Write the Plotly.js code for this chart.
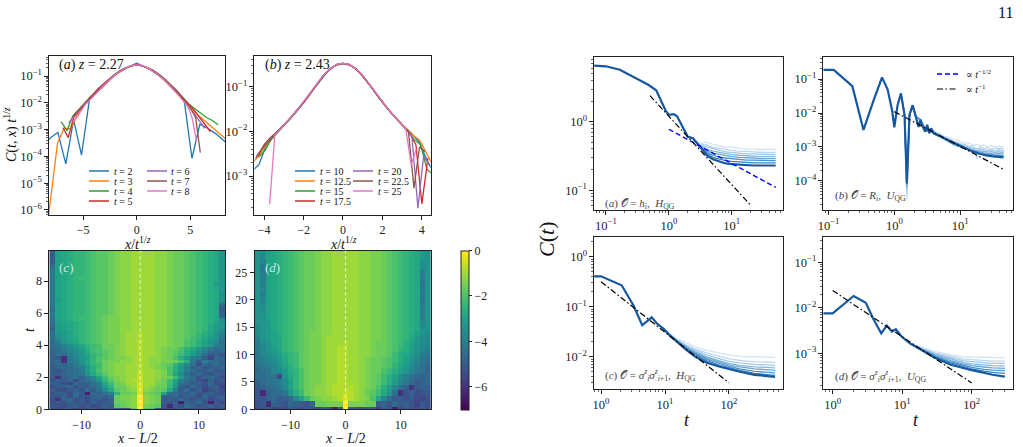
<!DOCTYPE html>
<html><head><meta charset="utf-8">
<script src="https://cdn.plot.ly/plotly-3.0.1.min.js"></script>
<style>html,body{margin:0;padding:0;background:#fff}#chart{width:1023px;height:447px}</style>
</head><body><div id="chart"></div>
<script>
// ---------------- DATA (log10 values) ----------------
// Panel (a): C(t,x) t^{1/z}, z = 2.27
const aTimes = [2, 3, 4, 5, 6, 7, 8];
const a_x2 = [-8.85,-8.11,-7.37,-6.63,-5.9,-5.16,-4.42,-3.69,-2.95,-2.21,-1.47,-0.74,0,0.74,1.47,2.21,2.95,3.69,4.42,5.16,5.9,6.63,7.37,8.11,8.85];
const a_y2 = [-3.6,-3.32,-3.1,-4.28,-2.64,-3.95,-1.88,-1.5,-1.24,-0.99,-0.78,-0.66,-0.52,-0.66,-0.77,-0.99,-1.26,-1.52,-1.86,-4.07,-2.8,-2.95,-3.15,-3.42,-3.65];
const a_x3 = [-8.64,-8.02,-7.4,-6.79,-6.17,-5.55,-4.93,-4.32,-3.7,-3.08,-2.47,-1.85,-1.23,-0.62,0,0.62,1.23,1.85,2.47,3.08,3.7,4.32,4.93,5.55,6.17,6.79,7.4,8.02,8.64];
const a_y3 = [-7.5,-5.4,-3.5,-2.95,-2.97,-2.45,-2.1,-1.8,-1.53,-1.3,-1.08,-0.89,-0.74,-0.63,-0.58,-0.63,-0.74,-0.89,-1.08,-1.3,-1.55,-1.82,-2.1,-2.4,-2.62,-2.85,-3.05,-3.25,-3.45];
const a_x4 = [-7.07,-6.52,-5.98,-5.43,-4.89,-4.35,-3.8,-3.26,-2.72,-2.17,-1.63,-1.09,-0.54,0,0.54,1.09,1.63,2.17,2.72,3.26,3.8,4.35,4.89,5.43,5.98,6.52,7.07,7.61];
const a_y4 = [-2.7,-3.04,-2.5,-2.25,-2.0,-1.78,-1.57,-1.37,-1.17,-0.98,-0.82,-0.7,-0.62,-0.58,-0.62,-0.7,-0.81,-0.96,-1.15,-1.37,-1.6,-1.85,-2.05,-2.22,-2.4,-2.55,-2.66,-2.82];
const a_x5 = [-6.89,-6.4,-5.9,-5.41,-4.92,-4.43,-3.94,-3.44,-2.95,-2.46,-1.97,-1.48,-0.98,-0.49,0,0.49,0.98,1.48,1.97,2.46,2.95,3.44,3.94,4.43,4.92,5.41,5.9,6.4,6.89];
const a_y5 = [-2.93,-3.3,-2.55,-2.3,-2.06,-1.85,-1.63,-1.43,-1.25,-1.07,-0.92,-0.79,-0.69,-0.61,-0.58,-0.61,-0.69,-0.79,-0.92,-1.07,-1.26,-1.45,-1.65,-1.88,-2.07,-2.3,-2.55,-2.85,-3.08];
const a_x6 = [-6.36,-5.9,-5.45,-5.0,-4.54,-4.09,-3.63,-3.18,-2.72,-2.27,-1.82,-1.36,-0.91,-0.45,0,0.45,0.91,1.36,1.82,2.27,2.72,3.18,3.63,4.09,4.54,5.0,5.45,5.9,6.36];
const a_y6 = [-2.75,-2.5,-2.3,-2.12,-1.94,-1.75,-1.56,-1.39,-1.2,-1.04,-0.9,-0.78,-0.68,-0.61,-0.58,-0.61,-0.68,-0.78,-0.9,-1.04,-1.2,-1.39,-1.57,-1.77,-1.97,-2.2,-2.45,-2.7,-2.95];
const a_x7 = [-5.94,-5.51,-5.09,-4.66,-4.24,-3.82,-3.39,-2.97,-2.54,-2.12,-1.7,-1.27,-0.85,-0.42,0,0.42,0.85,1.27,1.7,2.12,2.54,2.97,3.39,3.82,4.24,4.66,5.09,5.51,5.94];
const a_y7 = [-2.5,-2.3,-2.15,-1.98,-1.8,-1.63,-1.46,-1.3,-1.13,-0.99,-0.87,-0.76,-0.67,-0.61,-0.58,-0.61,-0.67,-0.76,-0.87,-0.99,-1.14,-1.3,-1.47,-1.65,-1.83,-2.02,-2.25,-2.55,-3.86];
const a_x8 = [-6.0,-5.6,-5.2,-4.8,-4.4,-4.0,-3.6,-3.2,-2.8,-2.4,-2.0,-1.6,-1.2,-0.8,-0.4,0,0.4,0.8,1.2,1.6,2.0,2.4,2.8,3.2,3.6,4.0,4.4,4.8,5.2,5.6];
const a_y8 = [-2.72,-2.55,-2.3,-2.05,-1.9,-1.72,-1.55,-1.39,-1.23,-1.08,-0.95,-0.83,-0.73,-0.65,-0.6,-0.58,-0.6,-0.65,-0.73,-0.83,-0.95,-1.08,-1.23,-1.4,-1.57,-1.75,-1.94,-2.15,-2.6,-3.45];

// Panel (b): z = 2.43
const bTimes = [10, 12.5, 15, 17.5, 20, 22.5, 25];
const b_x10 = [-4.66,-4.27,-3.88,-3.49,-3.1,-2.72,-2.33,-1.94,-1.55,-1.16,-0.78,-0.39,0,0.39,0.78,1.16,1.55,1.94,2.33,2.72,3.1,3.49,3.88,4.27,4.66];
const b_y10 = [-2.9,-2.75,-2.3,-2.1,-1.92,-1.74,-1.54,-1.33,-1.09,-0.86,-0.66,-0.53,-0.48,-0.53,-0.66,-0.85,-1.08,-1.31,-1.52,-1.72,-1.9,-2.05,-2.25,-2.66,-2.95];
const b_x12 = [-4.6,-4.25,-3.89,-3.54,-3.19,-2.83,-2.48,-2.12,-1.77,-1.42,-1.06,-0.71,-0.35,0,0.35,0.71,1.06,1.42,1.77,2.12,2.48,2.83,3.19,3.54,3.89,4.25,4.6];
const b_y12 = [-2.7,-2.55,-2.3,-2.12,-1.95,-1.79,-1.62,-1.43,-1.23,-1.0,-0.79,-0.62,-0.52,-0.48,-0.52,-0.62,-0.79,-1.0,-1.22,-1.42,-1.6,-1.77,-1.93,-2.08,-2.2,-2.5,-2.8];
const b_x15 = [-4.26,-3.94,-3.61,-3.28,-2.95,-2.62,-2.3,-1.97,-1.64,-1.31,-0.98,-0.66,-0.33,0,0.33,0.66,0.98,1.31,1.64,1.97,2.3,2.62,2.95,3.28,3.61,3.94,4.26,4.59];
const b_y15 = [-2.57,-2.42,-2.15,-2.0,-1.85,-1.69,-1.53,-1.34,-1.15,-0.94,-0.75,-0.6,-0.51,-0.48,-0.51,-0.6,-0.75,-0.94,-1.14,-1.33,-1.52,-1.68,-1.84,-1.99,-2.18,-2.3,-2.85,-2.98];
const b_x17 = [-4.31,-4.0,-3.7,-3.39,-3.08,-2.77,-2.46,-2.16,-1.85,-1.54,-1.23,-0.92,-0.62,-0.31,0,0.31,0.62,0.92,1.23,1.54,1.85,2.16,2.46,2.77,3.08,3.39,3.7,4.0,4.31];
const b_y17 = [-2.55,-2.3,-2.15,-2.03,-1.9,-1.75,-1.6,-1.44,-1.26,-1.07,-0.89,-0.72,-0.59,-0.51,-0.48,-0.51,-0.59,-0.72,-0.89,-1.07,-1.26,-1.44,-1.6,-1.75,-1.9,-2.05,-2.3,-3.62,-2.6];
const b_x20 = [-4.38,-4.09,-3.8,-3.5,-3.21,-2.92,-2.63,-2.34,-2.04,-1.75,-1.46,-1.17,-0.88,-0.58,-0.29,0,0.29,0.58,0.88,1.17,1.46,1.75,2.04,2.34,2.63,2.92,3.21,3.5,3.8,4.09,4.38];
const b_y20 = [-2.55,-2.38,-2.22,-2.08,-1.95,-1.82,-1.68,-1.53,-1.38,-1.21,-1.03,-0.86,-0.7,-0.58,-0.5,-0.48,-0.5,-0.58,-0.7,-0.86,-1.03,-1.21,-1.38,-1.53,-1.68,-1.82,-1.95,-2.12,-3.72,-2.55,-2.75];
const b_x22 = [-4.43,-4.16,-3.88,-3.6,-3.32,-3.05,-2.77,-2.49,-2.22,-1.94,-1.66,-1.39,-1.11,-0.83,-0.55,-0.28,0,0.28,0.55,0.83,1.11,1.39,1.66,1.94,2.22,2.49,2.77,3.05,3.32,3.6,3.88,4.16];
const b_y22 = [-2.6,-2.42,-2.27,-2.13,-2.0,-1.88,-1.75,-1.61,-1.47,-1.32,-1.15,-0.98,-0.83,-0.68,-0.57,-0.5,-0.48,-0.5,-0.57,-0.68,-0.82,-0.98,-1.15,-1.32,-1.47,-1.61,-1.75,-1.88,-2.0,-3.27,-2.35,-2.45];
const b_x25 = [-3.72,-3.46,-3.19,-2.93,-2.66,-2.39,-2.13,-1.86,-1.6,-1.33,-1.06,-0.8,-0.53,-0.27,0,0.27,0.53,0.8,1.06,1.33,1.6,1.86,2.13,2.39,2.66,2.93,3.19,3.46,3.72];
const b_y25 = [-3.63,-2.08,-1.95,-1.83,-1.69,-1.56,-1.41,-1.26,-1.11,-0.94,-0.78,-0.66,-0.56,-0.5,-0.48,-0.5,-0.56,-0.66,-0.78,-0.94,-1.11,-1.26,-1.41,-1.56,-1.69,-1.83,-1.95,-2.75,-2.4];

// Heatmaps: each char = level k (base 36), log10 C = -0.2*k ; rows bottom (t small) to top
const cCols = [-15,-14,-13,-12,-11,-10,-9,-8,-7,-6,-5,-4,-3,-2,-1,0,1,2,3,4,5,6,7,8,9,10,11,12,13,14];
const cTimes = [0,0.2,0.4,0.6,0.8,1,1.2,1.4,1.6,1.8,2,2.2,2.4,2.6,2.8,3,3.2,3.4,3.6,3.8,4,4.2,4.4,4.6,4.8,5,5.2,5.4,5.6,5.8,6,6.2,6.4,6.6,6.8,7,7.2,7.4,7.6,7.8,8,8.2,8.4,8.6,8.8,9,9.2,9.4,9.6,9.8];
const cRows = [
 "qrqpsrqprqppsp909apsrqpqrpqsrq",
 "pqrpoqprqop98760789qvpqnoqpoqp",
 "rpqoqproqpo88760678pqowopnqwpr",
 "quonqprpoqo87760678poqnpqoprqp",
 "pqornpqonpn87760678opnqoprnqpo",
 "qoprnpwnomkc8872789fmnopnqpoqr",
 "pqrpoqnpmie987626789ekpnqosqpr",
 "rponqopnlgc886525688choqnprpos",
 "opqsnpomkeb875535578bgmnpoqnrq",
 "qopnrnmkhc9765435578bfkmoqsoqp",
 "puonmoljfb87655355678bglnqonpr",
 "pponmlheb97665535567aeimonpqop",
 "oqonmkgda87665545567adgknponqp",
 "ponnlkhdb87665545678adhkonqpon",
 "pnomkifcb876655456789cfjmrnomp",
 "onulkheca8776654566778adlpkmno",
 "opuljhfca987765456678adhklpsno",
 "omnkjhecb9876554556789bdgjmpoq",
 "onljigdba9876554556789adfiknon",
 "nmkjhfdba8876554556788acegjlnm",
 "nlkigecba88765545566788abdfhkm",
 "nkhfecba987765545566788abdfhjm",
 "mjgfecba9877655455667889bceghl",
 "nhgedcba9877655455667889acdfhk",
 "mhgfdcba9877655455667889abdfhj",
 "ogfedcba9877665555667889abcegi",
 "ngfedcba9877665555667889abcegh",
 "mgfedcba9877665555667889abcdfh",
 "mfedcbba9877665555667889abcdei",
 "lfedcbba9877665555667889abcdeo",
 "lfedccba9987665555667889abcdeo",
 "mfedccba9987665555667889abcdep",
 "lfedccba9987665555667889abcdeo",
 "lfedccba9987665555667889abcdel",
 "lgedccba9987665555667889abcdeh",
 "lfedccba9987665555667889abcdeh",
 "lfedccba9987665555667889abcdei",
 "kfedccba9987665555667889abcdeh",
 "lfedccba9987665555667889abcdeh",
 "lfedccba9987665555667889abcdgh",
 "lfedccba9987665555667889abcdeh",
 "lfedcbba9987665555667889abcdeh",
 "kfedccba9987665555667889abcdeh",
 "lfedccba9987665555667889abcdeh",
 "lfedccba9987665555667889abcdeh",
 "nfedccba9987665555667889abcdeh",
 "pfedccba9987665555667889abcdeh",
 "ofedccba9987665555667889abcdeh",
 "pfedccba9987665555667889abcdeh",
 "pfedccba9987665555667889abcdeh"
];
const dCols = [-16,-15,-14,-13,-12,-11,-10,-9,-8,-7,-6,-5,-4,-3,-2,-1,0,1,2,3,4,5,6,7,8,9,10,11,12,13,14,15];
const dTimes = [0,1,2,3,4,5,6,7,8,9,10,11,12,13,14,15,16,17,18,19,20,21,22,23,24,25,26,27,28,29];
const dRows = [
 "rqpsrqpqrpqspqwq0pqrpqspqwrpqrpq",
 "qpvopqnopqo88777077788poqnpoqspr",
 "pqonponjfb87665424567aejnpoqprsq",
 "qvonmlhdb8766544345689behmuqorqp",
 "ponmljfca8766544445678adgjmoupop",
 "onmlkifca87765544556789bdgjlnpon",
 "mnlmrheca87765544556789bdfikmnon",
 "nmljigdca87765544556788abdfhjlmo",
 "mlkjhfdb9877655445567889acegikmn",
 "lkjigecb9877655445567889abdfhjlm",
 "ljihfdcb98776554455667889bdegikl",
 "kjhgecba98776554455667889acdfhjk",
 "kihfecba98776555455667889abdfhij",
 "jhgfecba98776555555667789abcegij",
 "ihgfdcba98776655555667789abcdfhi",
 "ihgedcba98876655555667789abcdeih",
 "hhgedcba98876655555667789abcdejh",
 "hhfedcba98876655555667789abcdekh",
 "hifedcba98876655555667789abcdekh",
 "hifedcba98876655555667789abcdekh",
 "hjfedcba98876655555667789abcdelh",
 "hkfedcba98876655555667789abcdekh",
 "hjfedcba98876655555667789abcdelh",
 "hkfedcba98876655555667789abcdelh",
 "hkfedcba98876655555667789abcdekh",
 "hlfedcba98876655555667789abcdekh",
 "hlfedcba98876655555667789abcdeih",
 "hjfedcba98876655555667789abcdeih",
 "hifedcba98876655555667789abcdegh",
 "hhfedcba98876655555667789abcdegh"
];

// Right panels (log10 C vs t)
const ra_t = [0.065,0.1,0.166,0.27,0.47,0.63,0.76,0.89,1.0,1.2,1.35,1.66,2.0,2.4,3.1,4.0,5.0,6.5,8,10,13,17,22,30,40,50];
const ra_dark = [0.82,0.81,0.76,0.66,0.54,0.46,0.30,0.16,0.10,0.11,0.08,-0.07,-0.22,-0.24,-0.37,-0.49,-0.55,-0.59,-0.61,-0.62,-0.63,-0.635,-0.64,-0.64,-0.64,-0.64];
const ra_tl = [2.0,2.4,3.1,4.0,5.0,6.5,8,10,13,17,22,30,40,50];
const ra_L1 = [-0.22,-0.24,-0.32,-0.30,-0.33,-0.35,-0.37,-0.37,-0.39,-0.40,-0.40,-0.41,-0.40,-0.41];
const ra_L2 = [-0.22,-0.24,-0.33,-0.34,-0.37,-0.39,-0.41,-0.42,-0.43,-0.44,-0.44,-0.45,-0.45,-0.45];
const ra_L3 = [-0.22,-0.24,-0.34,-0.37,-0.40,-0.42,-0.44,-0.45,-0.46,-0.47,-0.47,-0.48,-0.48,-0.48];
const ra_L4 = [-0.22,-0.24,-0.35,-0.40,-0.43,-0.45,-0.47,-0.48,-0.49,-0.50,-0.50,-0.51,-0.51,-0.51];
const ra_L5 = [-0.22,-0.24,-0.35,-0.42,-0.46,-0.48,-0.50,-0.51,-0.52,-0.53,-0.53,-0.54,-0.54,-0.54];
const ra_L6 = [-0.22,-0.24,-0.36,-0.44,-0.49,-0.52,-0.53,-0.54,-0.55,-0.56,-0.56,-0.57,-0.57,-0.57];
const ra_L7 = [-0.22,-0.24,-0.36,-0.46,-0.52,-0.55,-0.57,-0.58,-0.59,-0.59,-0.60,-0.60,-0.60,-0.60];
const ra_half_t = [1, 50], ra_half = [-0.11, -0.96];
const ra_inv_t = [0.5, 20], ra_inv = [0.38, -1.22];

const rb_t = [0.083,0.12,0.23,0.34,0.49,0.65,0.79,0.93,1.0,1.12,1.26,1.43,1.55,1.7,1.9,2.14,2.34,2.5,2.7,2.95,3.16,3.4,3.63,4.0,5.0,6.3,8,10,12.6,15.8,20,25,32,40,46];
const rb_dark = [-0.73,-0.73,-1.21,-2.5,-1.6,-0.95,-1.3,-1.95,-2.42,-1.77,-1.42,-2.06,-4.08,-2.06,-1.77,-2.11,-2.41,-2.2,-2.4,-2.55,-2.35,-2.6,-2.45,-2.6,-2.68,-2.78,-2.88,-2.96,-3.06,-3.14,-3.2,-3.25,-3.28,-3.3,-3.31];
const rb_tl = [1.26,1.43,1.55,1.7,1.9,2.14,2.5,3.0,3.5,4,5,6,7,8,9,10,12,14,16,18,20,23,26,30,34,38,42,46];
const rb_L1 = [-1.42,-2.06,-4.6,-2.06,-1.77,-2.11,-2.2,-2.45,-2.45,-2.55,-2.6,-2.7,-2.72,-2.8,-2.78,-2.85,-2.88,-2.9,-2.95,-2.92,-2.97,-2.95,-3.0,-2.96,-3.02,-2.97,-3.0,-2.98];
const rb_L2 = [-1.42,-2.06,-4.4,-2.06,-1.77,-2.11,-2.2,-2.48,-2.46,-2.57,-2.64,-2.73,-2.78,-2.84,-2.86,-2.9,-2.93,-2.98,-2.97,-3.35,-3.0,-3.05,-3.02,-3.07,-3.03,-3.06,-3.04,-3.06];
const rb_L3 = [-1.42,-2.06,-4.3,-2.06,-1.77,-2.11,-2.2,-2.5,-2.48,-2.58,-2.66,-2.76,-2.82,-2.87,-2.9,-2.94,-2.98,-3.02,-3.04,-3.05,-3.07,-3.08,-3.1,-3.09,-3.12,-3.08,-3.11,-3.1];
const rb_L4 = [-1.42,-2.06,-4.2,-2.06,-1.77,-2.11,-2.2,-2.52,-2.5,-2.6,-2.68,-2.78,-2.84,-2.9,-2.93,-2.97,-3.02,-3.06,-3.08,-3.1,-3.12,-3.13,-3.15,-3.14,-3.17,-3.14,-3.16,-3.15];
const rb_L5 = [-1.42,-2.06,-4.15,-2.06,-1.77,-2.11,-2.2,-2.53,-2.51,-2.61,-2.69,-2.79,-2.86,-2.92,-2.95,-2.99,-3.04,-3.09,-3.11,-3.14,-3.16,-3.18,-3.2,-3.19,-3.22,-3.19,-3.21,-3.2];
const rb_L6 = [-1.42,-2.06,-4.1,-2.06,-1.77,-2.11,-2.2,-2.53,-2.52,-2.62,-2.7,-2.8,-2.87,-2.93,-2.96,-3.0,-3.06,-3.11,-3.14,-3.17,-3.2,-3.22,-3.24,-3.23,-3.26,-3.24,-3.26,-3.25];
const rb_inv_t = [1, 45.7], rb_inv = [-1.96, -3.66];

const rc_t = [0.78,1,2.1,3.2,4.4,6.2,7.4,9.3,12,16,22,30,45,72,100,148,250,525];
const rc_dark = [-0.39,-0.39,-0.57,-0.97,-1.37,-1.21,-1.33,-1.43,-1.58,-1.72,-1.87,-2.0,-2.12,-2.2,-2.25,-2.3,-2.36,-2.40];
const rc_tl = [9.3,12,16,22,30,45,72,100,148,250,525];
const rc_L1 = [-1.43,-1.55,-1.65,-1.73,-1.8,-1.87,-1.93,-1.96,-1.99,-2.0,-2.01];
const rc_L2 = [-1.43,-1.56,-1.67,-1.77,-1.84,-1.92,-1.99,-2.04,-2.07,-2.1,-2.11];
const rc_L3 = [-1.43,-1.56,-1.68,-1.79,-1.87,-1.96,-2.04,-2.09,-2.12,-2.15,-2.17];
const rc_L4 = [-1.43,-1.57,-1.69,-1.81,-1.9,-2.0,-2.08,-2.13,-2.17,-2.2,-2.22];
const rc_L5 = [-1.43,-1.57,-1.7,-1.82,-1.92,-2.02,-2.11,-2.16,-2.2,-2.24,-2.27];
const rc_L6 = [-1.43,-1.57,-1.71,-1.84,-1.94,-2.05,-2.14,-2.19,-2.24,-2.29,-2.32];
const rc_L7 = [-1.43,-1.58,-1.71,-1.85,-1.96,-2.08,-2.17,-2.22,-2.27,-2.33,-2.37];
const rc_inv_t = [1, 100], rc_inv = [-0.5, -2.52];

const rd_t = [0.73,1,2,3,3.8,5,6,7.1,8.1,9.8,12.9,20,30,50,100,200,300];
const rd_dark = [-2.12,-2.12,-1.74,-1.89,-2.23,-2.56,-2.39,-2.52,-2.47,-2.63,-2.78,-2.95,-3.1,-3.25,-3.37,-3.47,-3.51];
const rd_tl = [12.9,20,30,50,75,100,150,200,300];
const rd_L1 = [-2.78,-2.88,-2.96,-3.03,-3.07,-3.08,-3.09,-3.1,-3.1];
const rd_L2 = [-2.78,-2.9,-2.99,-3.07,-3.12,-3.14,-3.16,-3.17,-3.17];
const rd_L3 = [-2.78,-2.91,-3.01,-3.1,-3.16,-3.18,-3.2,-3.22,-3.22];
const rd_L4 = [-2.78,-2.92,-3.03,-3.13,-3.2,-3.23,-3.26,-3.27,-3.28];
const rd_L5 = [-2.78,-2.93,-3.05,-3.16,-3.23,-3.27,-3.3,-3.32,-3.33];
const rd_L6 = [-2.78,-2.94,-3.07,-3.19,-3.26,-3.31,-3.35,-3.37,-3.38];
const rd_L7 = [-2.78,-2.94,-3.08,-3.21,-3.29,-3.34,-3.39,-3.42,-3.44];
const rd_inv_t = [1, 100], rd_inv = [-1.62, -3.65];

// ---------------- STYLE / BUILD ----------------
const W = 1023, H = 447;
const FONT = '"Liberation Serif", "DejaVu Serif", serif';
const TAB = ['#1f77b4','#ff7f0e','#2ca02c','#d62728','#9467bd','#8c564b','#e377c2'];
const LIGHT = ['#d3e4f3','#bdd7ee','#a3c8e6','#87b8de','#6ba6d4','#4f93c9','#3781bf'];
const DARK = '#16589f';
const P = a => a.map(v => Math.pow(10, v));
const dx = (a, b) => [a / W, b / W];
const dy = (top, bot) => [1 - bot / H, 1 - top / H];
const decode = s => s.split('').map(ch => -0.2 * parseInt(ch, 36));

const traces = [];
const aX = [a_x2,a_x3,a_x4,a_x5,a_x6,a_x7,a_x8], aY = [a_y2,a_y3,a_y4,a_y5,a_y6,a_y7,a_y8];
aX.forEach((xs, i) => traces.push({type:'scatter', mode:'lines', x: xs, y: P(aY[i]), xaxis:'x', yaxis:'y', line:{color:TAB[i], width:1.3}, hoverinfo:'skip'}));
const bX = [b_x10,b_x12,b_x15,b_x17,b_x20,b_x22,b_x25], bY = [b_y10,b_y12,b_y15,b_y17,b_y20,b_y22,b_y25];
bX.forEach((xs, i) => traces.push({type:'scatter', mode:'lines', x: xs, y: P(bY[i]), xaxis:'x2', yaxis:'y2', line:{color:TAB[i], width:1.3}, hoverinfo:'skip'}));

traces.push({type:'heatmap', x:cCols, y:cTimes, z:cRows.map(decode), colorscale:'Viridis', zmin:-7, zmax:0, showscale:false, xaxis:'x3', yaxis:'y3', hoverinfo:'skip'});
traces.push({type:'heatmap', x:dCols, y:dTimes, z:dRows.map(decode), colorscale:'Viridis', zmin:-7, zmax:0, xaxis:'x4', yaxis:'y4', hoverinfo:'skip',
  colorbar:{x:460.7/W, xanchor:'left', y:1-330/H, yanchor:'middle', thickness:8, thicknessmode:'pixels', len:(409.3-250.7)/H, lenmode:'fraction',
    outlinewidth:1, outlinecolor:'#222', tickvals:[0,-2,-4,-6], ticks:'outside', ticklen:3, tickcolor:'#222', xpad:0, ypad:0,
    tickfont:{family:FONT, size:12, color:'#222'}}});

function rightPanel(xa, ya, tl, Ls, t, dark) {
  Ls.forEach((L, i) => traces.push({type:'scatter', mode:'lines', x:tl, y:P(L), xaxis:xa, yaxis:ya, line:{color:LIGHT[i], width:1.3}, hoverinfo:'skip'}));
  traces.push({type:'scatter', mode:'lines', x:t, y:P(dark), xaxis:xa, yaxis:ya, line:{color:DARK, width:2.2}, hoverinfo:'skip'});
}
rightPanel('x5','y5', ra_tl, [ra_L1,ra_L2,ra_L3,ra_L4,ra_L5,ra_L6,ra_L7], ra_t, ra_dark);
rightPanel('x6','y6', rb_tl, [rb_L1,rb_L2,rb_L3,rb_L4,rb_L5,rb_L6], rb_t, rb_dark);
rightPanel('x7','y7', rc_tl, [rc_L1,rc_L2,rc_L3,rc_L4,rc_L5,rc_L6,rc_L7], rc_t, rc_dark);
rightPanel('x8','y8', rd_tl, [rd_L1,rd_L2,rd_L3,rd_L4,rd_L5,rd_L6,rd_L7], rd_t, rd_dark);
const DASHDOT = '6px,2.5px,1.5px,2.5px';
traces.push({type:'scatter', mode:'lines', x:ra_half_t, y:P(ra_half), xaxis:'x5', yaxis:'y5', line:{color:'#0000ff', width:1.4, dash:'5px,3px'}, hoverinfo:'skip'});
traces.push({type:'scatter', mode:'lines', x:ra_inv_t, y:P(ra_inv), xaxis:'x5', yaxis:'y5', line:{color:'#000', width:1.2, dash:DASHDOT}, hoverinfo:'skip'});
traces.push({type:'scatter', mode:'lines', x:rb_inv_t, y:P(rb_inv), xaxis:'x6', yaxis:'y6', line:{color:'#000', width:1.2, dash:DASHDOT}, hoverinfo:'skip'});
traces.push({type:'scatter', mode:'lines', x:rc_inv_t, y:P(rc_inv), xaxis:'x7', yaxis:'y7', line:{color:'#000', width:1.2, dash:DASHDOT}, hoverinfo:'skip'});
traces.push({type:'scatter', mode:'lines', x:rd_inv_t, y:P(rd_inv), xaxis:'x8', yaxis:'y8', line:{color:'#000', width:1.2, dash:DASHDOT}, hoverinfo:'skip'});

const BASE = {showline:true, mirror:true, linecolor:'#222', linewidth:1, ticks:'outside', ticklen:4, tickwidth:1, tickcolor:'#222',
  showgrid:false, zeroline:false, automargin:false, fixedrange:true, tickfont:{family:FONT, size:12, color:'#222'}};
function linAx(range, domain, anchor, tickvals) {
  return Object.assign({}, BASE, {type:'linear', range, domain, anchor, tickmode:'array', tickvals});
}
function logAx(range, domain, anchor) {
  return Object.assign({}, BASE, {type:'log', range, domain, anchor, tickmode:'linear', tick0:0, dtick:1,
    exponentformat:'power', showexponent:'all', labelalias:{'1':'10<sup>0</sup>','10':'10<sup>1</sup>'},
    tickfont:{family:FONT, size:10, color:'#222'},
    minor:{ticks:'outside', ticklen:2, tickwidth:0.7, tickcolor:'#222', showgrid:false}});
}

const ann = [];
function txt(x, y, text, size, opts) {
  ann.push(Object.assign({xref:'paper', yref:'paper', x:x / W, y:1 - y / H, text, showarrow:false, xanchor:'left', yanchor:'middle',
    font:{family:FONT, size, color:'#111'}}, opts || {}));
}
const shapes = [];
function seg(x0, x1, y, color, width, dash) {
  shapes.push({type:'line', xref:'paper', yref:'paper', x0:x0 / W, x1:x1 / W, y0:1 - y / H, y1:1 - y / H, line:{color, width, dash:dash || 'solid'}});
}
// white dotted centre lines in heatmaps
shapes.push({type:'line', xref:'x3', yref:'y3 domain', x0:0, x1:0, y0:0, y1:1, line:{color:'rgba(255,255,255,0.8)', width:1, dash:'dot'}});
shapes.push({type:'line', xref:'x4', yref:'y4 domain', x0:0, x1:0, y0:0, y1:1, line:{color:'rgba(255,255,255,0.8)', width:1, dash:'dot'}});

// legends (a), (b)
const rowsY = [171, 181, 191, 201];
function legend(times, lineX, textX) {
  times.forEach((tv, i) => {
    const c = i < 4 ? 0 : 1, r = i < 4 ? i : i - 4;
    seg(lineX[c], lineX[c] + 20, rowsY[r], TAB[i], 1.5);
    txt(textX[c], rowsY[r], '<i>t</i> = ' + tv, 10);
  });
}
legend(aTimes, [89, 147], [112, 169]);
legend(bTimes, [295, 353], [318, 376]);
// legend right (b)
seg(937, 958, 74, '#0000ff', 1.4, '5px,3px');
seg(937, 958, 89, '#000', 1.2, DASHDOT);
txt(964, 74, '∝ <i>t</i><sup>−1/2</sup>', 10);
txt(964, 89, '∝ <i>t</i><sup>−1</sup>', 10);

txt(1005, 13, '11', 16, {xanchor:'center'});
txt(57, 65, '(<i>a</i>) <i>z</i> = 2.27', 14);
txt(263, 65, '(<i>b</i>) <i>z</i> = 2.43', 14);
txt(137, 243, '<i>x</i>/<i>t</i><sup>1/<i>z</i></sup>', 14, {xanchor:'center'});
txt(343, 243, '<i>x</i>/<i>t</i><sup>1/<i>z</i></sup>', 14, {xanchor:'center'});
txt(10, 135, '<i>C</i>(<i>t</i>, <i>x</i>) <i>t</i><sup>1/<i>z</i></sup>', 14, {xanchor:'center', textangle:-90});
txt(29, 330, '<i>t</i>', 14, {xanchor:'center', textangle:-90});
txt(137, 438, '<i>x</i> − <i>L</i>/2', 14, {xanchor:'center'});
txt(345, 438, '<i>x</i> − <i>L</i>/2', 14, {xanchor:'center'});
txt(57, 267, '(<i>c</i>)', 13, {font:{family:FONT, size:13, color:'rgba(255,255,255,0.75)'}});
txt(263, 267, '(<i>d</i>)', 13, {font:{family:FONT, size:13, color:'rgba(255,255,255,0.75)'}});
txt(546, 240, '<i>C</i>(<i>t</i>)', 22, {xanchor:'center', textangle:-90});
txt(687, 420, '<i>t</i>', 18, {xanchor:'center'});
txt(916, 420, '<i>t</i>', 18, {xanchor:'center'});
const G = {family:FONT, size:11, color:'#444'};
txt(603, 204, '(<i>a</i>) 𝒪 = <i>h<sub>i</sub></i>,  <i>H</i><sub>QG</sub>', 11, {font:G});
txt(833, 196, '(<i>b</i>) 𝒪 = <i>R<sub>i</sub></i>,  <i>U</i><sub>QG</sub>', 11, {font:G});
txt(603, 375, '(<i>c</i>) 𝒪 = <i>σ</i><sup><i>z</i></sup><sub><i>i</i></sub><i>σ</i><sup><i>z</i></sup><sub><i>i</i>+1</sub>,  <i>H</i><sub>QG</sub>', 11, {font:G});
txt(833, 376, '(<i>d</i>) 𝒪 = <i>σ</i><sup><i>z</i></sup><sub><i>i</i></sub><i>σ</i><sup><i>z</i></sup><sub><i>i</i>+1</sub>,  <i>U</i><sub>QG</sub>', 11, {font:G});

const layout = {
  width:W, height:H, margin:{l:0, r:0, t:0, b:0}, showlegend:false,
  paper_bgcolor:'#fff', plot_bgcolor:'#fff', font:{family:FONT},
  xaxis: linAx([-8.2, 8.25], dx(49, 225), 'y', [-5, 0, 5]),
  yaxis: logAx([-6.19, -0.24], dy(55.7, 215), 'x'),
  xaxis2: linAx([-4.5, 4.45], dx(254.3, 430.7), 'y2', [-4, -2, 0, 2, 4]),
  yaxis2: logAx([-3.87, -0.31], dy(55.7, 215), 'x2'),
  xaxis3: linAx([-15.5, 14.5], dx(49.3, 225.3), 'y3', [-10, 0, 10]),
  yaxis3: linAx([0, 9.9], dy(250.7, 409.3), 'x3', [0, 2, 4, 6, 8]),
  xaxis4: linAx([-16.5, 15.5], dx(254.7, 431), 'y4', [-10, 0, 10]),
  yaxis4: linAx([0, 29], dy(250.7, 409.3), 'x4', [0, 5, 10, 15, 20, 25]),
  xaxis5: logAx([-1.19, 1.81], dx(594, 782.7), 'y5'),
  yaxis5: logAx([-1.29, 0.95], dy(56.7, 210), 'x5'),
  xaxis6: logAx([-1.08, 1.8], dx(823.3, 1012.7), 'y6'),
  yaxis6: logAx([-4.86, -0.34], dy(56.7, 210), 'x6'),
  xaxis7: logAx([-0.11, 2.84], dx(594, 782.7), 'y7'),
  yaxis7: logAx([-2.65, 0.39], dy(237.3, 389.3), 'x7'),
  xaxis8: logAx([-0.135, 2.59], dx(823.3, 1012.7), 'y8'),
  yaxis8: logAx([-3.79, -0.45], dy(237.3, 389.3), 'x8'),
  annotations: ann, shapes: shapes
};
Plotly.newPlot('chart', traces, layout, {displayModeBar:false, staticPlot:true});
</script></body></html>
